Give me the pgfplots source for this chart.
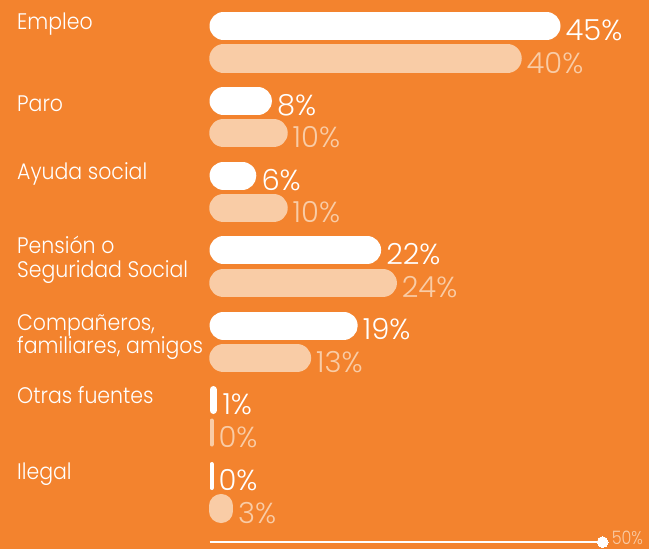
\documentclass[border=0pt]{standalone}
\usepackage{pgfplots}
\pgfplotsset{compat=1.18}
\usepackage{pgfplotstable}
\usepackage{fontspec}
\setmainfont{Poppins Light}
\newfontfamily\labfont{Poppins Light}[FakeStretch=0.91]
\newfontfamily\scalefont{Poppins Light}[FakeStretch=0.86]
\definecolor{bg}{HTML}{F3832E}
\definecolor{peach}{HTML}{F9CCA6}

% bars: v = value in %, d = +1 at start (0), -1 at end, y = bar centre (px from top)
\pgfplotstableread{
v d y
0 1 26
45 -1 26
nan nan nan
0 1 101
8 -1 101
nan nan nan
0 1 175.5
6 -1 175.5
nan nan nan
0 1 250
22 -1 250
nan nan nan
0 1 325.5
19 -1 325.5
}\whitebars

\pgfplotstableread{
v d y
0 1 58.5
40 -1 58.5
nan nan nan
0 1 133
10 -1 133
nan nan nan
0 1 208
10 -1 208
nan nan nan
0 1 283
24 -1 283
nan nan nan
0 1 358
13 -1 358
}\peachbars

\begin{document}
\begin{tikzpicture}[
  lab/.style={anchor=base west, inner sep=0pt, text=white, font=\labfont\fontsize{22.5}{24}\selectfont},
  valw/.style={anchor=base west, inner sep=0pt, xshift=5pt, text=white, font=\fontsize{29}{30}\selectfont},
  valp/.style={anchor=base west, inner sep=0pt, xshift=5pt, text=peach, font=\fontsize{29}{30}\selectfont},
]
\useasboundingbox (0,0) rectangle (649pt,549pt);
\fill[bg] (0,0) rectangle (649pt,549pt);
\begin{axis}[
  at={(0,0)}, anchor=south west,
  scale only axis, width=649pt, height=549pt,
  xmin=-26.859, xmax=56.346,
  ymin=0, ymax=549, y dir=reverse,
  enlargelimits=false,
  axis lines=none, ticks=none,
  clip=false,
  unbounded coords=jump,
]
% long bars (rounded ends)
\addplot[white, line width=28pt, line cap=round] table[x expr={\thisrow{v}+\thisrow{d}*1.795}, y=y] {\whitebars};
\addplot[peach, line width=28.5pt, line cap=round] table[x expr={\thisrow{v}+\thisrow{d}*1.795}, y=y] {\peachbars};
% short bars (narrower than tall)
\addplot[white, line width=7pt, line cap=round] coordinates {(0.45,389.5) (0.45,410.5)};   % 1%
\addplot[peach, line width=4pt, line cap=round] coordinates {(0.26,420.5) (0.26,444.5)};   % 0%
\addplot[white, line width=4pt, line cap=round] coordinates {(0.26,464) (0.26,488)};       % 0%
\addplot[peach, line width=23.5pt, line cap=round] coordinates {(1.5,505.7) (1.5,511.3)};  % 3%
% bottom scale line
\addplot[white, line width=2.5pt, mark=*, mark size=5.4pt, mark indices={2}, mark options={fill=white, draw=white, line width=0pt}] coordinates {(0,542) (50.4,542)};
\node[anchor=base west, inner sep=0pt, text=peach, font=\scalefont\fontsize{18.5}{20}\selectfont] at (axis cs:51.55,544) {50\%};

% category labels
\node[lab] at (axis cs:-24.68,29.3) {Empleo};
\node[lab] at (axis cs:-24.68,111.7) {Paro};
\node[lab] at (axis cs:-24.68,179) {Ayuda social};
\node[lab] at (axis cs:-24.68,253.3) {Pensión o};
\node[lab] at (axis cs:-24.68,277.7) {Seguridad Social};
\node[lab] at (axis cs:-24.68,330) {Compañeros,};
\node[lab] at (axis cs:-24.68,353.5) {familiares, amigos};
\node[lab] at (axis cs:-24.68,403.3) {Otras fuentes};
\node[lab] at (axis cs:-24.68,479) {Ilegal};

% value labels
\node[valw] at (axis cs:45,40) {45\%};
\node[valp] at (axis cs:40,73) {40\%};
\node[valw] at (axis cs:8,115) {8\%};
\node[valp] at (axis cs:10,147) {10\%};
\node[valw] at (axis cs:6,190) {6\%};
\node[valp] at (axis cs:10,222) {10\%};
\node[valw] at (axis cs:22,264) {22\%};
\node[valp] at (axis cs:24,297) {24\%};
\node[valw] at (axis cs:19,339) {19\%};
\node[valp] at (axis cs:13,372) {13\%};
\node[valw] at (axis cs:1,414) {1\%};
\node[valp] at (axis cs:0.5,447) {0\%};
\node[valw] at (axis cs:0.5,490) {0\%};
\node[valp] at (axis cs:3,523) {3\%};
\end{axis}
\end{tikzpicture}
\end{document}
